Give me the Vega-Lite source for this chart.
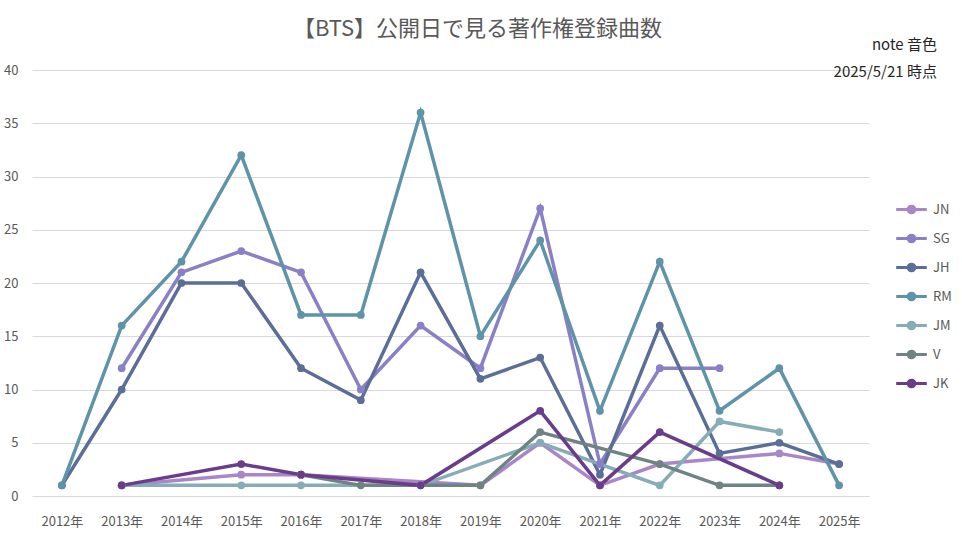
{
  "$schema": "https://vega.github.io/schema/vega-lite/v6.json",
  "background": "white",
  "padding": {"left": 3, "top": 18, "right": 10, "bottom": 5},
  "title": {
    "text": "【BTS】公開日で見る著作権登録曲数",
    "anchor": "middle",
    "frame": "group",
    "font": "Noto Sans CJK JP",
    "fontSize": 22,
    "fontWeight": "normal",
    "color": "#595959",
    "dx": 27,
    "offset": -3
  },
  "vconcat": [
    {
      "title": {
        "text": ["note 音色", "2025/5/21 時点"],
        "anchor": "end",
        "align": "right",
        "frame": "group",
        "font": "Noto Sans CJK JP",
        "fontSize": 15,
        "fontWeight": "normal",
        "lineHeight": 27,
        "color": "#262626",
        "dx": 68,
        "offset": -16
      },
      "width": 837,
      "height": 426,
      "data": {
        "values": [
          {"year": "2013年", "member": "JN", "count": 1},
          {"year": "2015年", "member": "JN", "count": 2},
          {"year": "2016年", "member": "JN", "count": 2},
          {"year": "2019年", "member": "JN", "count": 1},
          {"year": "2020年", "member": "JN", "count": 5},
          {"year": "2021年", "member": "JN", "count": 1},
          {"year": "2022年", "member": "JN", "count": 3},
          {"year": "2024年", "member": "JN", "count": 4},
          {"year": "2025年", "member": "JN", "count": 3},
          {"year": "2013年", "member": "SG", "count": 12},
          {"year": "2014年", "member": "SG", "count": 21},
          {"year": "2015年", "member": "SG", "count": 23},
          {"year": "2016年", "member": "SG", "count": 21},
          {"year": "2017年", "member": "SG", "count": 10},
          {"year": "2018年", "member": "SG", "count": 16},
          {"year": "2019年", "member": "SG", "count": 12},
          {"year": "2020年", "member": "SG", "count": 27},
          {"year": "2021年", "member": "SG", "count": 3},
          {"year": "2022年", "member": "SG", "count": 12},
          {"year": "2023年", "member": "SG", "count": 12},
          {"year": "2012年", "member": "JH", "count": 1},
          {"year": "2013年", "member": "JH", "count": 10},
          {"year": "2014年", "member": "JH", "count": 20},
          {"year": "2015年", "member": "JH", "count": 20},
          {"year": "2016年", "member": "JH", "count": 12},
          {"year": "2017年", "member": "JH", "count": 9},
          {"year": "2018年", "member": "JH", "count": 21},
          {"year": "2019年", "member": "JH", "count": 11},
          {"year": "2020年", "member": "JH", "count": 13},
          {"year": "2021年", "member": "JH", "count": 2},
          {"year": "2022年", "member": "JH", "count": 16},
          {"year": "2023年", "member": "JH", "count": 4},
          {"year": "2024年", "member": "JH", "count": 5},
          {"year": "2025年", "member": "JH", "count": 3},
          {"year": "2012年", "member": "RM", "count": 1},
          {"year": "2013年", "member": "RM", "count": 16},
          {"year": "2014年", "member": "RM", "count": 22},
          {"year": "2015年", "member": "RM", "count": 32},
          {"year": "2016年", "member": "RM", "count": 17},
          {"year": "2017年", "member": "RM", "count": 17},
          {"year": "2018年", "member": "RM", "count": 36},
          {"year": "2019年", "member": "RM", "count": 15},
          {"year": "2020年", "member": "RM", "count": 24},
          {"year": "2021年", "member": "RM", "count": 8},
          {"year": "2022年", "member": "RM", "count": 22},
          {"year": "2023年", "member": "RM", "count": 8},
          {"year": "2024年", "member": "RM", "count": 12},
          {"year": "2025年", "member": "RM", "count": 1},
          {"year": "2013年", "member": "JM", "count": 1},
          {"year": "2015年", "member": "JM", "count": 1},
          {"year": "2016年", "member": "JM", "count": 1},
          {"year": "2018年", "member": "JM", "count": 1},
          {"year": "2020年", "member": "JM", "count": 5},
          {"year": "2022年", "member": "JM", "count": 1},
          {"year": "2023年", "member": "JM", "count": 7},
          {"year": "2024年", "member": "JM", "count": 6},
          {"year": "2016年", "member": "V", "count": 2},
          {"year": "2017年", "member": "V", "count": 1},
          {"year": "2019年", "member": "V", "count": 1},
          {"year": "2020年", "member": "V", "count": 6},
          {"year": "2022年", "member": "V", "count": 3},
          {"year": "2023年", "member": "V", "count": 1},
          {"year": "2024年", "member": "V", "count": 1},
          {"year": "2013年", "member": "JK", "count": 1},
          {"year": "2015年", "member": "JK", "count": 3},
          {"year": "2016年", "member": "JK", "count": 2},
          {"year": "2018年", "member": "JK", "count": 1},
          {"year": "2020年", "member": "JK", "count": 8},
          {"year": "2021年", "member": "JK", "count": 1},
          {"year": "2022年", "member": "JK", "count": 6},
          {"year": "2024年", "member": "JK", "count": 1}
        ]
      },
      "encoding": {
        "x": {
          "field": "year",
          "type": "ordinal",
          "scale": {
            "type": "point",
            "padding": 0.5,
            "domain": ["2012年", "2013年", "2014年", "2015年", "2016年", "2017年", "2018年", "2019年", "2020年", "2021年", "2022年", "2023年", "2024年", "2025年"]
          },
          "axis": {
            "title": null,
            "labelAngle": 0,
            "ticks": false,
            "domain": false,
            "grid": false,
            "labelPadding": 19,
            "labelFont": "Noto Sans CJK JP",
            "labelFontSize": 13,
            "labelColor": "#595959"
          }
        },
        "y": {
          "field": "count",
          "type": "quantitative",
          "scale": {"domain": [0, 40]},
          "axis": {
            "title": null,
            "values": [0, 5, 10, 15, 20, 25, 30, 35, 40],
            "ticks": false,
            "domain": false,
            "gridColor": "#d9d9d9",
            "gridWidth": 1,
            "labelPadding": 14,
            "labelFont": "Noto Sans CJK JP",
            "labelFontSize": 13,
            "labelColor": "#595959"
          }
        },
        "color": {
          "field": "member",
          "type": "nominal",
          "scale": {
            "domain": ["JN", "SG", "JH", "RM", "JM", "V", "JK"],
            "range": ["#a886c8", "#8a80c6", "#5b6e97", "#5f93a9", "#86adb7", "#6f8482", "#6a3d8a"]
          },
          "legend": {
            "title": null,
            "orient": "none",
            "legendX": 869,
            "legendY": 129,
            "symbolType": "M-1.7,0H1.7M0.37,0A0.37,0.37,0,1,1,-0.37,0A0.37,0.37,0,1,1,0.37,0",
            "symbolSize": 324,
            "symbolStrokeWidth": 3,
            "rowPadding": 9,
            "labelOffset": 11,
            "labelFont": "Noto Sans CJK JP",
            "labelFontSize": 13,
            "labelColor": "#595959",
            "encode": {
              "symbols": {
                "update": {
                  "fill": {"scale": "color", "field": "value"},
                  "stroke": {"scale": "color", "field": "value"}
                }
              }
            }
          }
        }
      },
      "layer": [
        {"mark": {"type": "line", "strokeWidth": 3.5}},
        {"mark": {"type": "circle", "size": 60, "opacity": 1}}
      ]
    }
  ],
  "config": {
    "view": {"stroke": null}
  }
}
